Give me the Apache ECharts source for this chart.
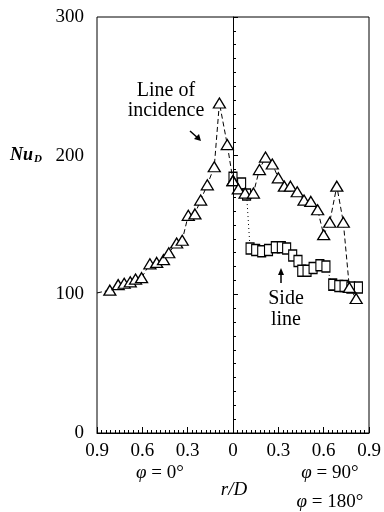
<!DOCTYPE html>
<html>
<head>
<meta charset="utf-8">
<script src="https://cdn.jsdelivr.net/npm/echarts@6/dist/echarts.min.js"></script>
<style>html,body{margin:0;padding:0;background:#fff;}#c{width:384px;height:512px;}</style>
</head>
<body>
<div id="c"></div>
<script>
// phi = 0 deg side (plotted to the left), line of incidence
var leftR  = [0.9, 0.815, 0.76, 0.72, 0.68, 0.645, 0.605, 0.55, 0.505, 0.46, 0.425, 0.373, 0.336, 0.296, 0.252, 0.214, 0.17, 0.124, 0.09, 0.038, 0];
var leftNu = [101, 103, 107, 108, 109, 111, 112, 122, 123, 125, 130, 137, 139, 157, 158, 168, 179, 192, 238, 208, 182];
// phi = 90/180 deg side (plotted to the right), line of incidence
var rightR  = [0, 0.035, 0.08, 0.135, 0.175, 0.215, 0.26, 0.30, 0.34, 0.38, 0.425, 0.47, 0.515, 0.56, 0.60, 0.64, 0.687, 0.73, 0.77, 0.815];
var rightNu = [182, 176, 173, 173, 190, 199, 194, 184, 178, 178, 174, 168, 167, 161, 143, 152, 178, 152, 105, 97];
// side line (squares)
var sideR  = [0, 0.057, 0.09, 0.113, 0.15, 0.19, 0.235, 0.28, 0.32, 0.355, 0.395, 0.43, 0.455, 0.49, 0.53, 0.575, 0.615, 0.66, 0.70, 0.735, 0.78, 0.83];
var sideNu = [184, 180, 172, 133, 132, 131, 132, 134, 134, 133, 128, 124, 117, 117, 119, 121, 120, 107, 106, 106, 105, 105];
var xTicks = [-0.9, -0.6, -0.3, 0, 0.3, 0.6, 0.9];
var yTicks = [0, 100, 200, 300];

var F = 'Liberation Serif';
var chart = echarts.init(document.getElementById('c'), null, {renderer: 'canvas'});

var leftData = leftR.map(function (r, i) {
  var d = {value: [-r, leftNu[i]]};
  if (i === 0) d.symbol = 'none';
  return d;
});
var rightData = rightR.map(function (r, i) { return [r, rightNu[i]]; });
var sideData = sideR.map(function (r, i) { return [r, sideNu[i]]; });

var tri = {
  type: 'line', symbol: 'triangle', symbolSize: [12, 10],
  itemStyle: {color: '#fff', borderColor: '#000', borderWidth: 1.3},
  lineStyle: {color: '#000', width: 1, type: [5, 3]},
  animation: false, z: 3
};

chart.setOption({
  animation: false,
  grid: {left: 97, right: 15, top: 17, bottom: 79, show: true, borderColor: '#000', borderWidth: 1},
  xAxis: {
    type: 'value', min: xTicks[0], max: xTicks[xTicks.length - 1], interval: 0.3,
    axisLine: {lineStyle: {color: '#000', width: 1}},
    axisTick: {inside: true, length: 6, lineStyle: {color: '#000'}},
    minorTick: {show: true, splitNumber: 10, length: 3, lineStyle: {color: '#000'}},
    splitLine: {show: false},
    axisLabel: {
      color: '#000', fontFamily: F, fontSize: 19, margin: 9,
      formatter: function (v) { return String(Math.abs(Math.round(v * 10) / 10)); }
    }
  },
  yAxis: {
    type: 'value', min: yTicks[0], max: yTicks[yTicks.length - 1], interval: 100,
    axisLine: {show: true, lineStyle: {color: '#000', width: 1}},
    axisTick: {show: true, inside: true, length: 5, lineStyle: {color: '#000'}},
    minorTick: {show: true, splitNumber: 10, length: 3, lineStyle: {color: '#000'}},
    splitLine: {show: false},
    axisLabel: {color: '#000', fontFamily: F, fontSize: 19, margin: 13}
  },
  series: [
    Object.assign({}, tri, {
      name: 'left', data: leftData,
      markLine: {
        silent: true, symbol: 'none', animation: false,
        label: {show: false},
        lineStyle: {color: '#000', width: 1, type: 'solid'},
        data: [{xAxis: 0}]
      }
    }),
    Object.assign({}, tri, {name: 'right', data: rightData}),
    {
      type: 'line', name: 'side', data: sideData,
      symbol: 'rect', symbolSize: [8, 11],
      itemStyle: {color: '#fff', borderColor: '#000', borderWidth: 1.3},
      lineStyle: {color: '#000', width: 1, type: [1, 3]},
      animation: false, z: 2
    }
  ],
  graphic: [
    {type: 'text', left: 10, top: 146, style: {
      text: '{a|Nu}{b|D}', fill: '#000',
      rich: {
        a: {fontFamily: F, fontSize: 18, fontWeight: 'bold', fontStyle: 'italic', fill: '#000'},
        b: {fontFamily: F, fontSize: 11, fontWeight: 'bold', fontStyle: 'italic', fill: '#000', padding: [8, 0, 0, 1]}
      }
    }},
    {type: 'text', x: 166, y: 91, style: {text: 'Line of', font: '20px "Liberation Serif"', fill: '#000', align: 'center', verticalAlign: 'middle'}},
    {type: 'text', x: 166, y: 111, style: {text: 'incidence', font: '20px "Liberation Serif"', fill: '#000', align: 'center', verticalAlign: 'middle'}},
    {type: 'line', shape: {x1: 190, y1: 131, x2: 199, y2: 139}, style: {stroke: '#000', lineWidth: 1.5}},
    {type: 'polygon', shape: {points: [[201, 141], [194, 139], [199, 134]]}, style: {fill: '#000'}},
    {type: 'line', shape: {x1: 281, y1: 283, x2: 281, y2: 272}, style: {stroke: '#000', lineWidth: 1.5}},
    {type: 'polygon', shape: {points: [[281, 268], [278, 275], [284, 275]]}, style: {fill: '#000'}},
    {type: 'text', x: 286, y: 299, style: {text: 'Side', font: '20px "Liberation Serif"', fill: '#000', align: 'center', verticalAlign: 'middle'}},
    {type: 'text', x: 286, y: 320, style: {text: 'line', font: '20px "Liberation Serif"', fill: '#000', align: 'center', verticalAlign: 'middle'}},
    {type: 'text', x: 160, y: 473, style: {
      text: '{i|φ} = 0°', font: '19px "Liberation Serif"', fill: '#000', align: 'center', verticalAlign: 'middle',
      rich: {i: {fontFamily: F, fontSize: 19, fontStyle: 'italic', fill: '#000'}}
    }},
    {type: 'text', x: 234, y: 490, style: {
      text: 'r/D', font: 'italic 19px "Liberation Serif"', fill: '#000', align: 'center', verticalAlign: 'middle'
    }},
    {type: 'text', x: 330, y: 473, style: {
      text: '{i|φ} = 90°', font: '19px "Liberation Serif"', fill: '#000', align: 'center', verticalAlign: 'middle',
      rich: {i: {fontFamily: F, fontSize: 19, fontStyle: 'italic', fill: '#000'}}
    }},
    {type: 'text', x: 330, y: 502, style: {
      text: '{i|φ} = 180°', font: '19px "Liberation Serif"', fill: '#000', align: 'center', verticalAlign: 'middle',
      rich: {i: {fontFamily: F, fontSize: 19, fontStyle: 'italic', fill: '#000'}}
    }}
  ]
});
</script>
</body>
</html>
